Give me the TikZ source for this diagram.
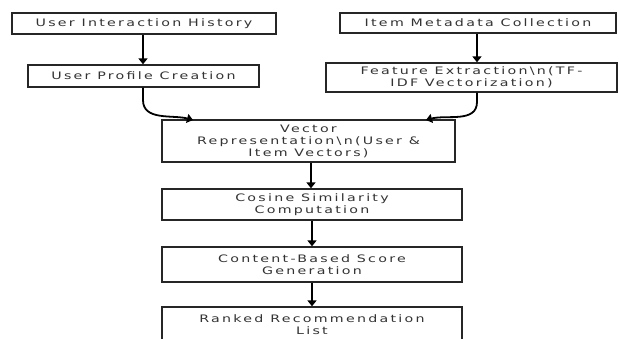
\documentclass[tikz,border=0pt]{standalone}
\usepackage{fontspec}
\setmainfont{DejaVu Sans}[FakeStretch=1.38,LetterSpace=22]
\usetikzlibrary{arrows.meta}
\definecolor{txt}{HTML}{333333}
\tikzset{
  box/.style={draw=black!85, line width=1.3pt, fill=white, minimum width=#1, inner sep=0pt, align=center,
              text=txt, font=\fontsize{10.3}{12}\selectfont},
  conn/.style={line width=1.8pt, -{Triangle[width=9pt,length=6pt]}},
}
\begin{document}
\begin{tikzpicture}[x=1pt,y=-1pt]
\useasboundingbox (0,0) rectangle (619,339);
\clip (0,0) rectangle (619,339);
\node[box=264pt, minimum height=21pt] (uih) at (144,23.5) {User Interaction History};
\node[box=231pt, minimum height=22pt] (upc) at (143.5,76) {User Profile Creation};
\node[box=276pt, minimum height=20pt] (imc) at (478,23) {Item Metadata Collection};
\node[box=291pt, minimum height=29pt] (fe) at (471.5,77.5) {Feature Extraction\textbackslash n(TF-\\IDF Vectorization)};
\node[box=293pt, minimum height=42pt] (vr) at (308.5,141) {Vector\\Representation\textbackslash n(User \&\\Item Vectors)};
\node[box=300pt, minimum height=31pt] (cs) at (312,204.5) {Cosine Similarity\\Computation};
\node[box=300pt, minimum height=35pt] (cb) at (312,264.5) {Content-Based Score\\Generation};
\node[box=300pt, minimum height=36pt] (rr) at (312,325) {Ranked Recommendation\\List};
\coordinate (v1) at (193,120);
\coordinate (v2) at (426,120);
\draw[conn] (uih.south -| 143,0) -- (upc.north -| 143,0);
\draw[conn] (imc.south -| 477,0) -- (fe.north -| 477,0);
\draw[conn] (upc.south -| 143,0) -- (143,100) to[out=-90,in=165] (v1);
\draw[conn] (fe.south -| 477,0) -- (477,102) to[out=-90,in=15] (v2);
\draw[conn] (vr.south -| 311,0) -- (cs.north -| 311,0);
\draw[conn] (cs.south -| 312,0) -- (cb.north -| 312,0);
\draw[conn] (cb.south -| 312,0) -- (rr.north -| 312,0);
\end{tikzpicture}
\end{document}
